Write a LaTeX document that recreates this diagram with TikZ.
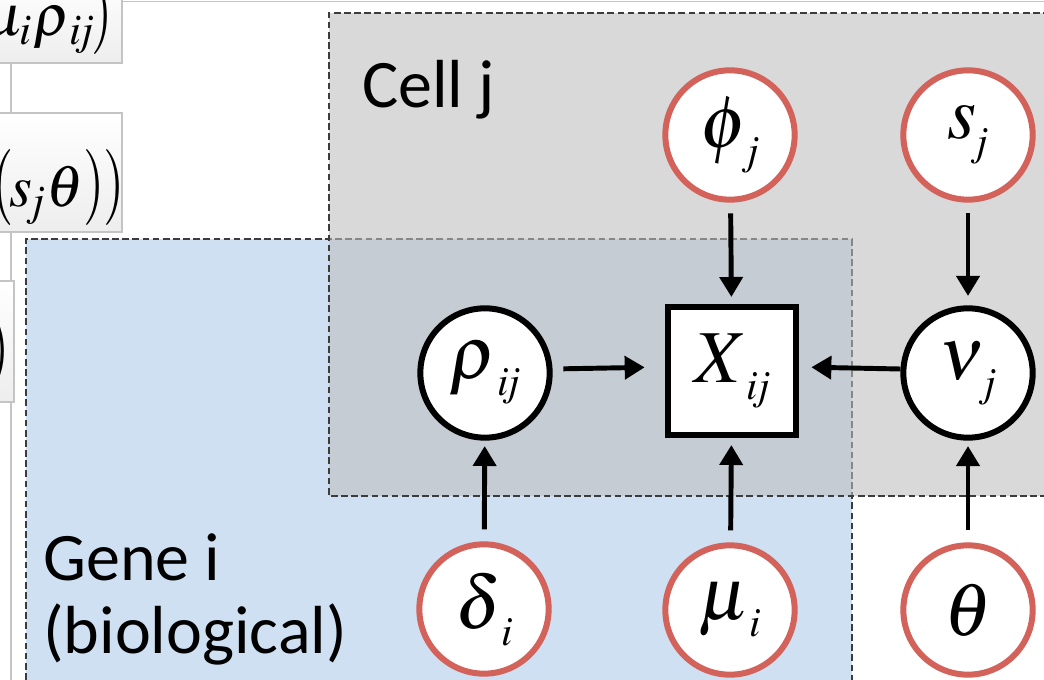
\documentclass[tikz,border=0pt]{standalone}
\usepackage{graphicx}
\usepackage{mathptmx}
\usepackage[no-math]{fontspec}
\newfontfamily\labelfont{Carlito}
\usetikzlibrary{arrows.meta}

\definecolor{geneblue}{RGB}{207,224,242}
\definecolor{cellgray}{RGB}{190,190,190}
\definecolor{plateedge}{RGB}{60,60,60}
\definecolor{priorred}{RGB}{210,98,90}
\definecolor{panelline}{RGB}{196,196,196}

% symbol with a dropped subscript, as set by an equation editor
\newcommand\msym[2]{$#1$\raisebox{-12.7pt}{\fontsize{31}{31}\selectfont$\mathit{#2}$}}
% tall, narrow parenthesis of the equation panels
\newcommand\tallparen[1]{\scalebox{0.72}[1]{\fontsize{57}{57}\selectfont$#1$}}

\tikzset{
  prior/.style={circle, draw=priorred, line width=4.5pt, fill=white,
    minimum size=97pt, inner sep=0pt, font=\fontsize{56}{56}\selectfont},
  latent/.style={circle, draw=black, line width=4.5pt, fill=white,
    minimum size=97pt, inner sep=0pt, font=\fontsize{56}{56}\selectfont},
  observed/.style={rectangle, draw=black, line width=5pt, fill=white,
    minimum size=96pt, inner sep=0pt, font=\fontsize{56}{56}\selectfont},
  dep/.style={line width=3.7pt, -{Triangle[length=15pt,width=17pt]}},
  plate/.style={draw=plateedge, line width=1.5pt, dash pattern=on 5pt off 2.6pt},
  platelabel/.style={font=\labelfont\fontsize{51}{55}\selectfont, inner sep=0pt},
  panelbox/.style={draw=panelline, line width=1.2pt, top color=white, bottom color=black!7},
  paneltext/.style={inner sep=0pt, font=\fontsize{44}{44}\selectfont},
}

\begin{document}
\begin{tikzpicture}[x=0.75pt, y=-0.75pt]
\useasboundingbox (0,0) rectangle (1044,680);
\clip (0,0) rectangle (1044,680);
\fill[white] (0,0) rectangle (1044,680);

% equation panels on the left, cut by the frame
\draw[panelline, line width=1.2pt] (122,1.5) -- (1050,1.5);
\draw[panelbox] (-20,-20) rectangle (122,63);
\draw[panelbox] (-20,113) rectangle (122,232);
\draw[panelbox] (-20,281) rectangle (14,402);
\coordinate (p1b) at (11,63);  \coordinate (p2t) at (11,113);
\coordinate (p2b) at (11,232); \coordinate (p3t) at (11,281);
\coordinate (p3b) at (11,402); \coordinate (pend) at (11,690);
\draw[panelline, line width=1.2pt] (p1b) -- (p2t) (p2b) -- (p3t) (p3b) -- (pend);

\node[paneltext, anchor=base east] (eqa) at (113,36)
  {$\mu_{\mathit{i}}\kern1pt\rho_{\kern3pt\mathit{ij}}$\kern-2pt\tallparen{)}};
\node[paneltext, anchor=base east] (eqb) at (125,207)
  {\tallparen{(}\kern-3pt$s_{\mathit{j}}\kern1pt\theta$\tallparen{)}\kern-1pt\tallparen{)}};
\node[inner sep=0pt, anchor=base east] (eqc) at (10,370) {\tallparen{)}};

% plates
\fill[geneblue] (26,239) rectangle (852,700);
\draw[plate] (26,700) -- (26,239) -- (852,239) -- (852,700);
\fill[cellgray, fill opacity=0.58] (329,13) rectangle (1060,496);
\draw[plate] (1060,13) -- (329,13) -- (329,496) -- (1060,496);

\node[platelabel, anchor=base west] (celllabel) at (362,108) {Cell j};
\node[platelabel, anchor=base west] (genelabel1) at (43,580) {Gene i};
\node[platelabel, anchor=base west] (genelabel2) at (43,653) {(biological)};

% variables
\node[prior]    (phi)   at (730,135) {\msym{\phi}{j}};
\node[prior]    (s)     at (968,135) {\msym{s}{j}};
\node[latent]   (rho)   at (485,373) {\msym{\rho}{ij}};
\node[observed] (X)     at (732,371) {\msym{X}{ij}};
\node[latent]   (nu)    at (968,373) {\msym{\nu}{j}};
\node[prior]    (delta) at (484,609) {\msym{\delta}{i}};
\node[prior]    (mu)    at (730,610) {\msym{\mu}{i}};
\node[prior]    (theta) at (968,610) {$\theta$};

% dependencies
\draw[dep, shorten <=8pt, shorten >=5pt] (phi) -- (X);
\draw[dep, shorten <=8pt, shorten >=7pt] (s) -- (nu);
\draw[dep, shorten <=8pt, shorten >=15pt] ([yshift=3pt]rho.east) -- ([yshift=3pt]X.west);
\draw[dep, shorten <=0pt, shorten >=9pt] ([yshift=3pt]nu.west) -- ([yshift=3pt]X.east);
\draw[dep, shorten <=9pt, shorten >=4pt] (delta) -- (rho);
\draw[dep, shorten <=9pt, shorten >=5pt] (mu) -- (X);
\draw[dep, shorten <=9pt, shorten >=4pt] (theta) -- (nu);
\end{tikzpicture}
\end{document}
